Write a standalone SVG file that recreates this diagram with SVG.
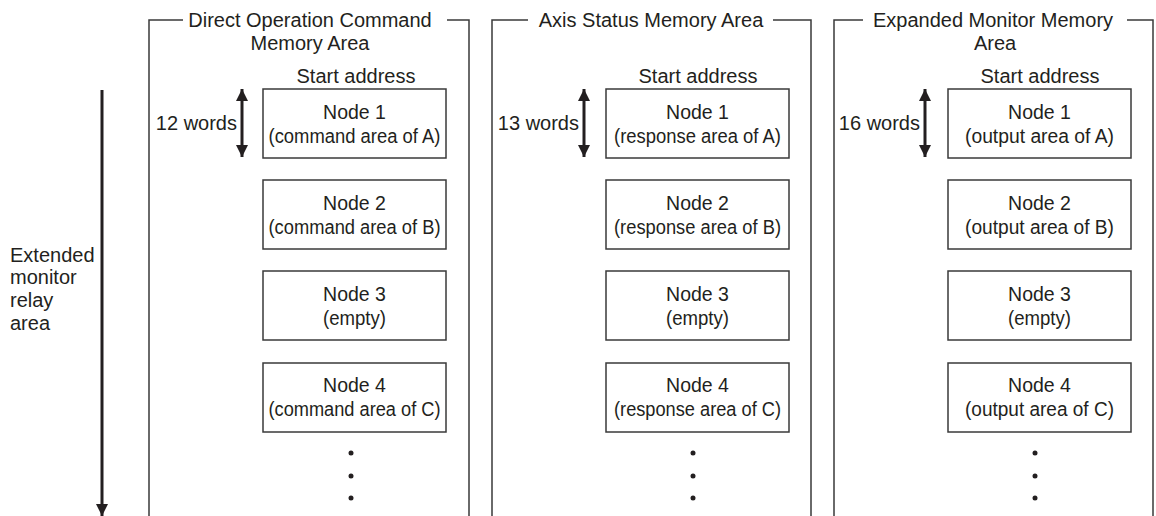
<svg xmlns="http://www.w3.org/2000/svg" width="1156" height="516" viewBox="0 0 1156 516">
<defs>
<style>
text{font-family:"Liberation Sans",Arial,sans-serif;font-size:20px;fill:#231f20}
.n{font-size:19.5px}
.c{text-anchor:middle}
.r{text-anchor:end}
.frame{fill:none;stroke:#3a3a3a;stroke-width:1.5}
.box{fill:#fff;stroke:#3a3a3a;stroke-width:1.5}
.ar{stroke:#231f20;stroke-width:3;fill:none}
.dot{fill:#231f20}
</style>
<marker id="ah" viewBox="0 0 12 12" markerWidth="12" markerHeight="12" refX="12" refY="6" orient="auto" markerUnits="userSpaceOnUse">
<path d="M0,0 L12,6 L0,12 Z" fill="#231f20"/>
</marker>
<marker id="ahs" viewBox="0 0 12 12" markerWidth="12" markerHeight="12" refX="0" refY="6" orient="auto" markerUnits="userSpaceOnUse">
<path d="M12,0 L0,6 L12,12 Z" fill="#231f20"/>
</marker>
</defs>
<rect width="1156" height="516" fill="#fff"/>

<g id="relay-axis">
<text x="10" y="262">Extended</text>
<text x="10" y="284">monitor</text>
<text x="10" y="307">relay</text>
<text x="10" y="330">area</text>
</g>

<g id="panel1">
<path class="frame" d="M149,516 V20 H183 M447,20 H469 V516"/>
<text class="c" x="310" y="27">Direct Operation Command</text>
<text class="c" x="310" y="50">Memory Area</text>
<text class="c" x="356" y="83">Start address</text>
<text class="r" x="237" y="130">12 words</text>
</g>
<g id="p1n1"><rect class="box" x="263" y="89" width="183" height="69"/><text class="c n" x="354.5" y="118.5">Node 1</text><text class="c n" x="354.5" y="142.5" textLength="172" lengthAdjust="spacingAndGlyphs">(command area of A)</text></g>
<g id="p1n2"><rect class="box" x="263" y="180" width="183" height="69"/><text class="c n" x="354.5" y="209.5">Node 2</text><text class="c n" x="354.5" y="233.5" textLength="172" lengthAdjust="spacingAndGlyphs">(command area of B)</text></g>
<g id="p1n3"><rect class="box" x="263" y="271" width="183" height="69"/><text class="c n" x="354.5" y="300.5">Node 3</text><text class="c n" x="354.5" y="324.5" textLength="63" lengthAdjust="spacingAndGlyphs">(empty)</text></g>
<g id="p1n4"><rect class="box" x="263" y="363" width="183" height="69"/><text class="c n" x="354.5" y="392">Node 4</text><text class="c n" x="354.5" y="416" textLength="172" lengthAdjust="spacingAndGlyphs">(command area of C)</text></g>
<g id="p1dots"><circle class="dot" cx="351" cy="453" r="2.5"/><circle class="dot" cx="351" cy="476" r="2.5"/><circle class="dot" cx="351" cy="498" r="2.5"/></g>

<g id="panel2">
<path class="frame" d="M492,516 V20 H528 M773,20 H811 V516"/>
<text class="c" x="651" y="27">Axis Status Memory Area</text>
<text class="c" x="698" y="83">Start address</text>
<text class="r" x="579" y="130">13 words</text>
</g>
<g id="p2n1"><rect class="box" x="606" y="89" width="183" height="69"/><text class="c n" x="697.5" y="118.5">Node 1</text><text class="c n" x="697.5" y="142.5" textLength="167" lengthAdjust="spacingAndGlyphs">(response area of A)</text></g>
<g id="p2n2"><rect class="box" x="606" y="180" width="183" height="69"/><text class="c n" x="697.5" y="209.5">Node 2</text><text class="c n" x="697.5" y="233.5" textLength="167" lengthAdjust="spacingAndGlyphs">(response area of B)</text></g>
<g id="p2n3"><rect class="box" x="606" y="271" width="183" height="69"/><text class="c n" x="697.5" y="300.5">Node 3</text><text class="c n" x="697.5" y="324.5" textLength="63" lengthAdjust="spacingAndGlyphs">(empty)</text></g>
<g id="p2n4"><rect class="box" x="606" y="363" width="183" height="69"/><text class="c n" x="697.5" y="392">Node 4</text><text class="c n" x="697.5" y="416" textLength="167" lengthAdjust="spacingAndGlyphs">(response area of C)</text></g>
<g id="p2dots"><circle class="dot" cx="693" cy="453" r="2.5"/><circle class="dot" cx="693" cy="476" r="2.5"/><circle class="dot" cx="693" cy="498" r="2.5"/></g>

<g id="panel3">
<path class="frame" d="M834,516 V20 H863 M1127,20 H1153 V516"/>
<text class="c" x="993" y="27">Expanded Monitor Memory</text>
<text class="c" x="995" y="50">Area</text>
<text class="c" x="1040" y="83">Start address</text>
<text class="r" x="920" y="130">16 words</text>
</g>
<g id="p3n1"><rect class="box" x="948" y="89" width="183" height="69"/><text class="c n" x="1039.5" y="118.5">Node 1</text><text class="c n" x="1039.5" y="142.5" textLength="149" lengthAdjust="spacingAndGlyphs">(output area of A)</text></g>
<g id="p3n2"><rect class="box" x="948" y="180" width="183" height="69"/><text class="c n" x="1039.5" y="209.5">Node 2</text><text class="c n" x="1039.5" y="233.5" textLength="149" lengthAdjust="spacingAndGlyphs">(output area of B)</text></g>
<g id="p3n3"><rect class="box" x="948" y="271" width="183" height="69"/><text class="c n" x="1039.5" y="300.5">Node 3</text><text class="c n" x="1039.5" y="324.5" textLength="63" lengthAdjust="spacingAndGlyphs">(empty)</text></g>
<g id="p3n4"><rect class="box" x="948" y="363" width="183" height="69"/><text class="c n" x="1039.5" y="392">Node 4</text><text class="c n" x="1039.5" y="416" textLength="149" lengthAdjust="spacingAndGlyphs">(output area of C)</text></g>
<g id="p3dots"><circle class="dot" cx="1035" cy="453" r="2.5"/><circle class="dot" cx="1035" cy="476" r="2.5"/><circle class="dot" cx="1035" cy="498" r="2.5"/></g>

<g id="connectors">
<line class="ar" x1="102" y1="90" x2="102" y2="516" marker-end="url(#ah)"/>
<line class="ar" x1="242" y1="89" x2="242" y2="157" marker-start="url(#ahs)" marker-end="url(#ah)"/>
<line class="ar" x1="584" y1="89" x2="584" y2="157" marker-start="url(#ahs)" marker-end="url(#ah)"/>
<line class="ar" x1="925" y1="89" x2="925" y2="157" marker-start="url(#ahs)" marker-end="url(#ah)"/>
</g>
</svg>
